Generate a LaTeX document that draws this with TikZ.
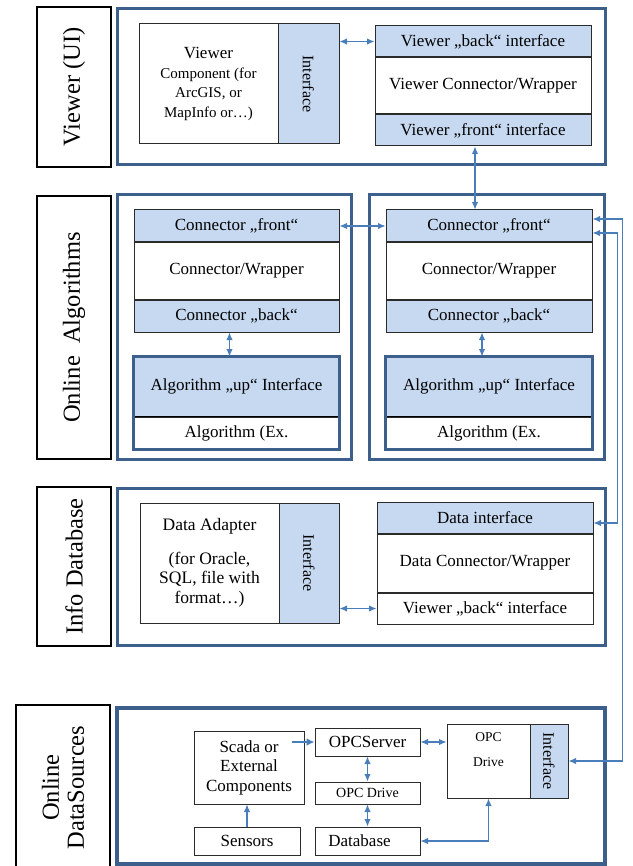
\documentclass[tikz,border=0pt]{standalone}
\usepackage{fontspec}
\setmainfont{Liberation Serif}
\usepackage{tikz}
\usetikzlibrary{positioning,arrows.meta}
\usepackage{xcolor}

\definecolor{layerblue}{HTML}{3C5F8C}
\definecolor{ifblue}{HTML}{C6D9F1}
\definecolor{linkblue}{HTML}{4A7EBB}
\definecolor{edgegray}{HTML}{2B2B2B}
\newcommand{\compfont}{\fontsize{15}{18.5}\selectfont}

\begin{document}
\begin{tikzpicture}[
    x=1pt, y=-1pt,
    node distance=0pt,
    lbl/.style={rectangle, draw=black, line width=1.6pt, rotate=90, align=center, inner sep=0pt, font=\fontsize{24.5}{25}\selectfont},
    layer/.style={draw=layerblue, line width=3pt, inner sep=0pt},
    part/.style={rectangle, draw=edgegray, line width=1pt, fill=white, align=center, inner sep=0pt, font=\fontsize{17}{19.5}\selectfont},
    iface/.style={part, fill=ifblue},
    side/.style={iface, rotate=-90, font=\fontsize{16}{18}\selectfont},
    link/.style={{Latex[length=7.5pt,width=6.5pt]}-{Latex[length=7.5pt,width=6.5pt]}, draw=linkblue, line width=1.1pt},
    uplink/.style={-{Latex[length=7.5pt,width=6.5pt]}, draw=linkblue, line width=1.1pt},
    boldlink/.style={-{Latex[length=8pt,width=8pt]}, draw=linkblue, line width=2.4pt}
]
\useasboundingbox (0,0) rectangle (632,866);

% Viewer (UI)
\node[lbl, minimum width=160, minimum height=74] (lblviewer) at (74,87) {Viewer (UI)};
\node[layer, minimum width=488, minimum height=156] (viewerbox) at (361,87) {};
\node[part, minimum width=139, minimum height=120] (viewcomp) at (208.5,84) {Viewer\\ \compfont Component (for\\ \compfont ArcGIS, or\\ \compfont MapInfo or…)};
\node[side, minimum width=120, minimum height=61] (viewiface) at (308.5,84) {Interface};
\node[iface, minimum width=216, minimum height=31] (viewback) at (483,41.5) {Viewer „back“ interface};
\node[part, minimum width=216, minimum height=56, below=of viewback] (viewwrap) {Viewer Connector/Wrapper};
\node[iface, minimum width=216, minimum height=31, below=of viewwrap] (viewfront) {Viewer „front“ interface};

% Online Algorithms
\node[lbl, minimum width=263, minimum height=74] (lblalgo) at (74,327.5) {Online~ Algorithms};
\node[layer, minimum width=234, minimum height=264] (algoboxL) at (234,327) {};
\node[layer, minimum width=235, minimum height=264] (algoboxR) at (486.5,327) {};

\node[iface, minimum width=205, minimum height=32] (frontL) at (236.5,226) {Connector „front“};
\node[part, minimum width=205, minimum height=56, below=of frontL] (wrapL) {Connector/Wrapper};
\node[iface, minimum width=205, minimum height=32, below=of wrapL] (backL) {Connector „back“};
\node[iface, minimum width=205, minimum height=59] (upL) at (236.5,386.5) {Algorithm „up“ Interface};
\node[part, minimum width=205, minimum height=32, below=of upL] (exL) {Algorithm (Ex.};
\draw[black, line width=1.8pt] (exL.north west) -- (exL.north east);
\draw[layer] (upL.north west) rectangle (exL.south east);

\node[iface, minimum width=206, minimum height=32] (frontR) at (489,226) {Connector „front“};
\node[part, minimum width=206, minimum height=56, below=of frontR] (wrapR) {Connector/Wrapper};
\node[iface, minimum width=206, minimum height=32, below=of wrapR] (backR) {Connector „back“};
\node[iface, minimum width=206, minimum height=59] (upR) at (489,386.5) {Algorithm „up“ Interface};
\node[part, minimum width=206, minimum height=32, below=of upR] (exR) {Algorithm (Ex.};
\draw[black, line width=1.8pt] (exR.north west) -- (exR.north east);
\draw[layer] (upR.north west) rectangle (exR.south east);

% Info Database
\node[lbl, minimum width=159, minimum height=74] (lbldb) at (74,566.5) {Info Database};
\node[layer, minimum width=488, minimum height=157] (dbbox) at (361,566.5) {};
\node[part, minimum width=139, minimum height=120, font=\fontsize{17.5}{19.5}\selectfont] (adapter) at (209.5,563) {Data Adapter\\[14pt](for Oracle,\\SQL, file with\\format…)};
\node[side, minimum width=120, minimum height=60] (adapteriface) at (309,563) {Interface};
\node[iface, minimum width=216, minimum height=31] (dataif) at (485,517.5) {Data interface};
\node[part, minimum width=216, minimum height=58, below=of dataif] (datawrap) {Data Connector/Wrapper};
\node[part, minimum width=216, minimum height=31, below=of datawrap] (databack) {Viewer „back“ interface};

% Online DataSources
\node[lbl, minimum width=165, minimum height=94] (lblsrc) at (63,787.5) {Online\\DataSources};
\node[layer, line width=4pt, minimum width=488, minimum height=156] (srcbox) at (361,785.5) {};
\node[part, minimum width=110, minimum height=73] (scada) at (249,767.5) {Scada or\\External\\Components};
\node[part, minimum width=105, minimum height=28] (opcserver) at (367.5,742) {OPCServer};
\node[part, minimum width=105, minimum height=22, font=\fontsize{14}{16}\selectfont] (opcsmall) at (367.5,793) {OPC Drive};
\node[part, minimum width=106, minimum height=28] (sensors) at (247,841) {Sensors};
\node[part, minimum width=105, minimum height=28] (database) at (367.5,841) {Database\hspace*{16pt}};
\node[part, minimum width=83, minimum height=74] (opcdrive) at (488.5,761) {};
\node[font=\fontsize{13.5}{16}\selectfont, align=center] (opclabel) at (488.5,749.5) {OPC\\[9pt]Drive};
\node[side, minimum width=74, minimum height=38] (opciface) at (549,761) {Interface};

% connectors
\draw[link] (viewback.west -| viewiface.north) -- (viewback.west);
\draw[link] ([xshift=-8pt]viewfront.south) -- ([xshift=-8pt]viewfront.south |- frontR.north);
\draw[link] (frontL.east) -- (frontR.west);
\draw[link] ([xshift=-7pt]backL.south) -- ([xshift=-7pt]upL.north);
\draw[link] ([xshift=-7pt]backR.south) -- ([xshift=-7pt]upR.north);
\draw[link] (databack.west -| adapteriface.north) -- (databack.west);
\draw[link] ([yshift=7pt]frontR.east) -- ++(30,0) |- (opciface.north);
\draw[link] ([yshift=-7pt]frontR.east) -- ++(25,0) |- ([yshift=-5.5pt]dataif.east);

\draw[boldlink] ([xshift=-13pt]scada.east |- opcserver.west) -- (opcserver.west);
\draw[link] (opcserver.east) -- (opcserver.east -| opcdrive.west);
\draw[link] (opcserver.south) -- (opcsmall.north);
\draw[link] (opcsmall.south) -- (database.north);
\draw[uplink] (sensors.north) -- (sensors.north |- scada.south);
\draw[link] (database.east) -| (opcdrive.south);

\end{tikzpicture}
\end{document}
